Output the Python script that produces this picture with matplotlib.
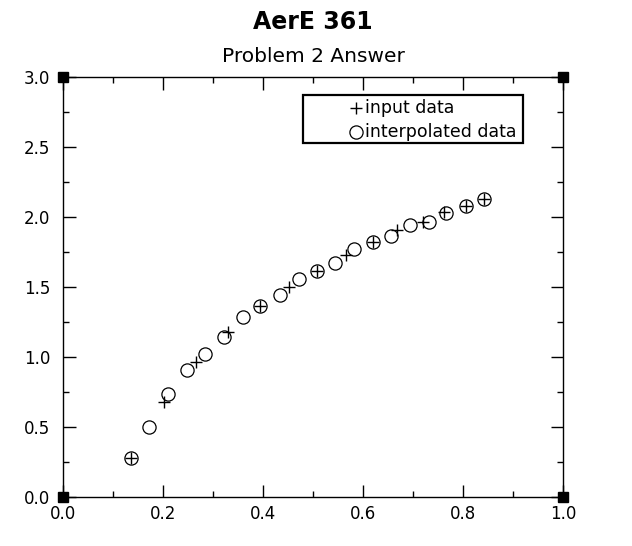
import matplotlib
matplotlib.use("Agg")
import matplotlib.pyplot as plt
from matplotlib.patches import Rectangle
from matplotlib.ticker import MultipleLocator

# --- input data (+)
x_in = [0.135, 0.201, 0.265, 0.329, 0.394, 0.451, 0.507, 0.566, 0.619, 0.667,
        0.719, 0.761, 0.805, 0.841]
y_in = [0.276, 0.681, 0.962, 1.176, 1.361, 1.502, 1.616, 1.729, 1.819, 1.907,
        1.966, 2.034, 2.079, 2.126]

# --- interpolated data (o)
x_int = [0.135, 0.171, 0.209, 0.247, 0.283, 0.321, 0.359, 0.394, 0.433, 0.471,
         0.507, 0.543, 0.581, 0.619, 0.655, 0.693, 0.731, 0.766, 0.805, 0.841]
y_int = [0.276, 0.502, 0.734, 0.905, 1.019, 1.145, 1.284, 1.361, 1.443, 1.555,
         1.616, 1.669, 1.769, 1.819, 1.864, 1.941, 1.966, 2.032, 2.079, 2.126]

title = "AerE 361"
subtitle = "Problem 2 Answer"
labels = ["input data", "interpolated data"]

plt.rcParams['font.family'] = ['DejaVu Sans']

fig = plt.figure(figsize=(6.32, 5.46), dpi=100)
ax = fig.add_axes([63/632, 49/546, 500/632, 420/546])

ax.plot(x_in, y_in, '+', color='black', ms=9, mew=1.0, ls='none')
ax.plot(x_int, y_int, 'o', mfc='none', mec='black', ms=9.5, mew=0.9, ls='none')

ax.set_xlim(0, 1)
ax.set_ylim(0, 3)
ax.xaxis.set_major_locator(MultipleLocator(0.2))
ax.xaxis.set_minor_locator(MultipleLocator(0.1))
ax.yaxis.set_major_locator(MultipleLocator(0.5))
ax.yaxis.set_minor_locator(MultipleLocator(0.25))
ax.xaxis.set_major_formatter(plt.FormatStrFormatter('%.1f'))
ax.yaxis.set_major_formatter(plt.FormatStrFormatter('%.1f'))
ax.tick_params(which='both', direction='in', top=True, right=True, width=1.0, labelsize=12)
ax.tick_params(which='major', length=9)
ax.tick_params(which='minor', length=4.5)
ax.tick_params(axis='x', pad=6)
ax.tick_params(axis='y', pad=9)
for s in ax.spines.values():
    s.set_linewidth(1.0)

# corner squares
ax.plot([0, 1, 0, 1], [0, 0, 1, 1], 's', color='black', ms=6.5,
        transform=ax.transAxes, clip_on=False)

# legend box
ax.add_patch(Rectangle((0.48, 0.843), 0.44, 0.114, transform=ax.transAxes,
                       fill=False, ec='black', lw=1.6))
ax.plot([0.586], [0.926], '+', color='black', ms=9, mew=1.0, transform=ax.transAxes)
ax.plot([0.586], [0.869], 'o', mfc='none', mec='black', ms=9.5, mew=0.9,
        transform=ax.transAxes)
ax.text(0.604, 0.926, labels[0], transform=ax.transAxes, fontsize=12.5, va='center')
ax.text(0.604, 0.869, labels[1], transform=ax.transAxes, fontsize=12.5, va='center')

fig.text(313/632, 1 - 22/546, title, ha='center', va='center', fontsize=17, fontweight='bold')
fig.text(313/632, 1 - 57/546, subtitle, ha='center', va='center', fontsize=14.5)

fig.savefig("out.png", dpi=100)
